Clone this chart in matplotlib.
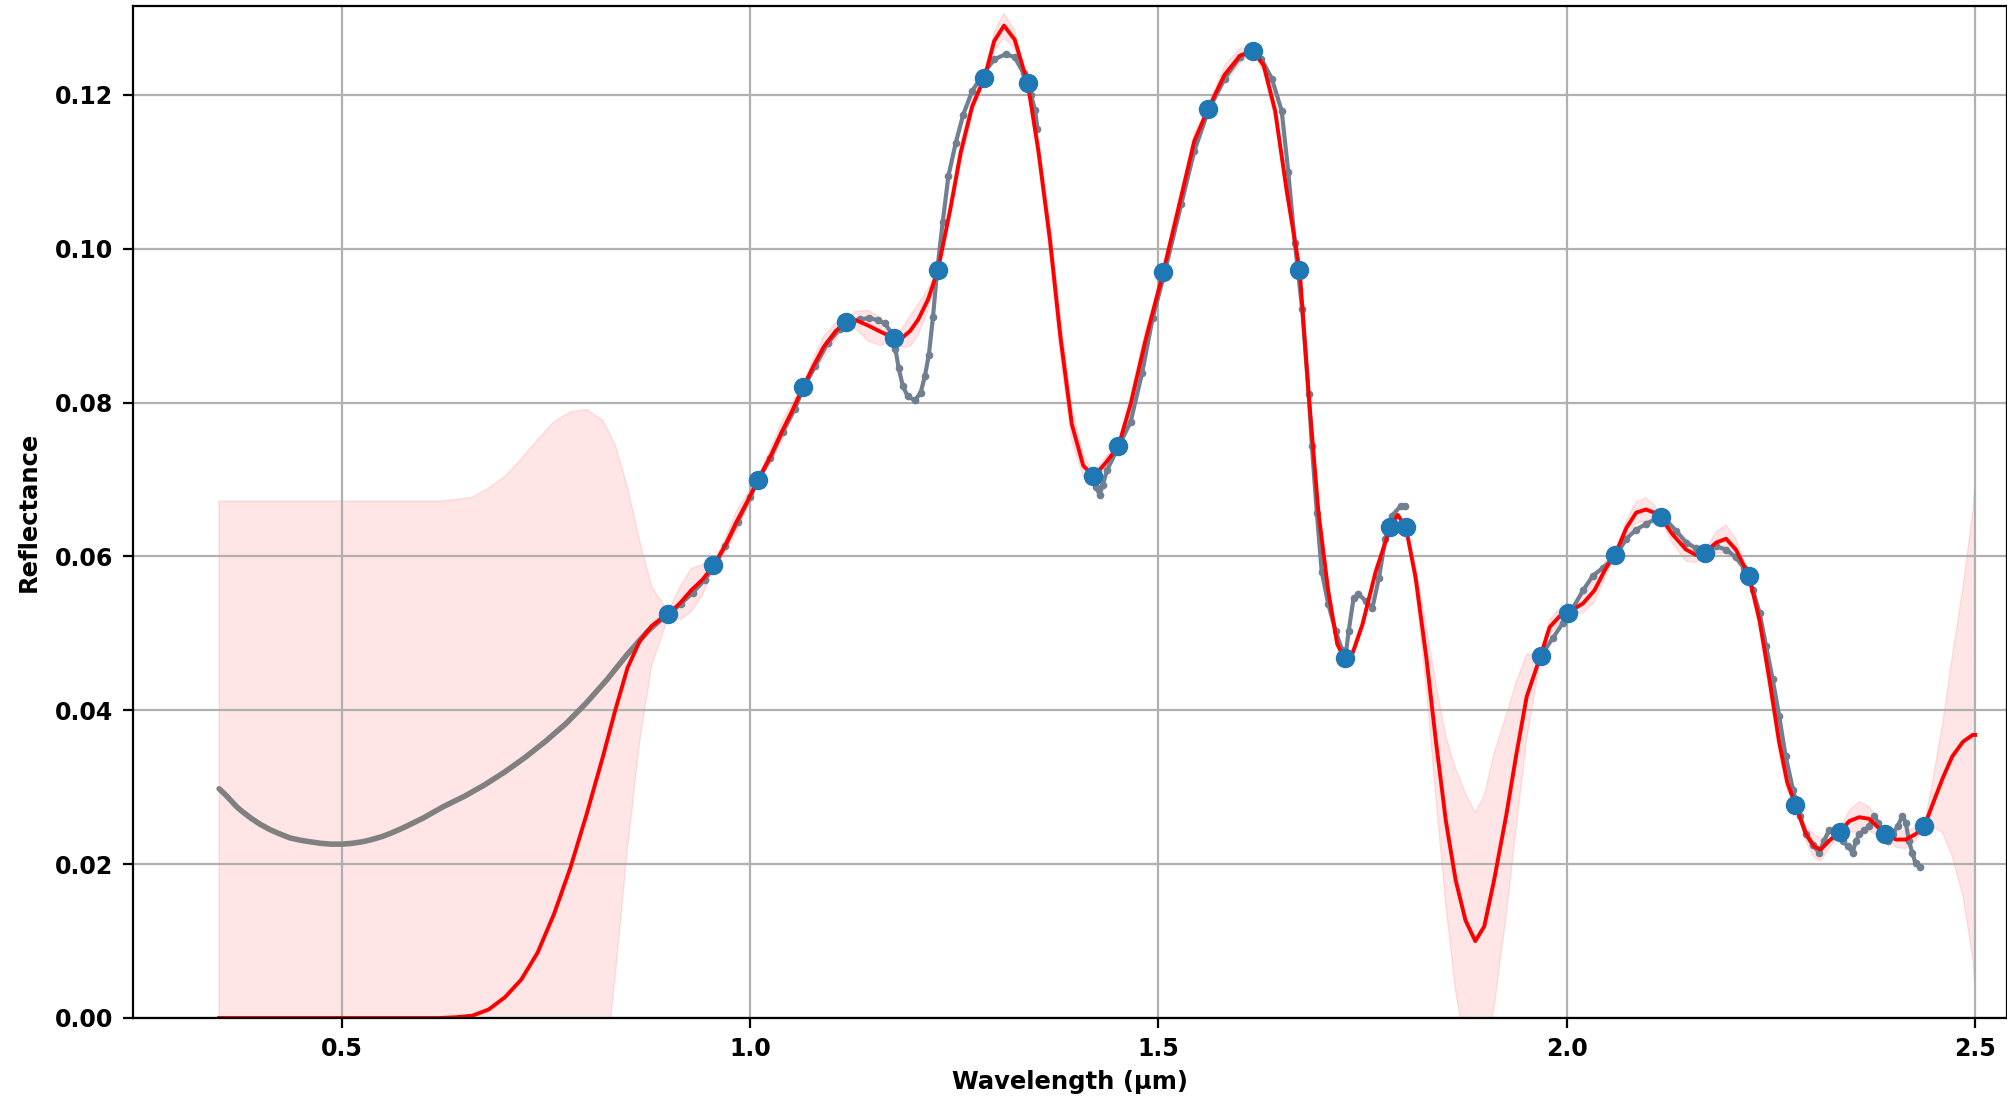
import matplotlib
matplotlib.use("Agg")
import matplotlib.pyplot as plt
import numpy as np

# GP prediction (mean and half-width of the band)
fit_x = [0.35, 0.45, 0.55, 0.62, 0.64, 0.66, 0.68, 0.70, 0.72, 0.74, 0.76, 0.78,
         0.80, 0.82, 0.835, 0.85, 0.865, 0.88, 0.90, 0.915, 0.928, 0.942, 0.956,
         0.97, 0.983, 0.997, 1.010, 1.025, 1.038, 1.052, 1.065, 1.078, 1.090,
         1.105, 1.118, 1.130, 1.145, 1.160, 1.176, 1.186, 1.196, 1.206, 1.218,
         1.230, 1.245, 1.258, 1.272, 1.287, 1.299, 1.311, 1.324, 1.340, 1.353,
         1.367, 1.380, 1.394, 1.408, 1.421, 1.435, 1.451, 1.466, 1.484, 1.506,
         1.528, 1.544, 1.561, 1.581, 1.600, 1.616, 1.629, 1.643, 1.657, 1.673,
         1.684, 1.696, 1.708, 1.719, 1.729, 1.738, 1.750, 1.766, 1.784, 1.793,
         1.803, 1.815, 1.828, 1.840, 1.852, 1.864, 1.876, 1.888, 1.899, 1.911,
         1.926, 1.938, 1.951, 1.968, 1.979, 1.991, 2.003, 2.020, 2.034, 2.048,
         2.059, 2.073, 2.085, 2.097, 2.107, 2.115, 2.130, 2.146, 2.158, 2.169,
         2.183, 2.195, 2.207, 2.223, 2.236, 2.248, 2.260, 2.270, 2.280, 2.293,
         2.303, 2.311, 2.321, 2.334, 2.346, 2.358, 2.370, 2.382, 2.391, 2.403,
         2.415, 2.427, 2.438, 2.448, 2.460, 2.472, 2.485, 2.497, 2.500]
fit_y = [0.0, 0.0, 0.0, 0.0, 0.0001, 0.0003, 0.0011, 0.0027, 0.0050, 0.0085, 0.0135, 0.0195,
         0.0265, 0.0340, 0.0400, 0.0455, 0.0490, 0.0510, 0.0525, 0.0540, 0.0556, 0.0570, 0.0589,
         0.0615, 0.0644, 0.0672, 0.0700, 0.0730, 0.0760, 0.0790, 0.0820, 0.0848, 0.0872,
         0.0893, 0.0905, 0.0907, 0.0900, 0.0892, 0.0884, 0.0884, 0.0893, 0.0908, 0.0934,
         0.0972, 0.1050, 0.1125, 0.1185, 0.1222, 0.1270, 0.1290, 0.1272, 0.1215, 0.1128,
         0.1014, 0.0886, 0.0772, 0.0718, 0.0704, 0.0721, 0.0743, 0.0798, 0.0880, 0.0970,
         0.1068, 0.1140, 0.1182, 0.1226, 0.1251, 0.1258, 0.1238, 0.1179, 0.1076, 0.0972,
         0.0811, 0.0657, 0.0555, 0.0486, 0.0466, 0.0475, 0.0512, 0.0580, 0.0638, 0.0654,
         0.0638, 0.0572, 0.0469, 0.0358, 0.0256, 0.0179, 0.0127, 0.0100, 0.0119, 0.0179,
         0.0264, 0.0341, 0.0418, 0.0471, 0.0508, 0.0522, 0.0528, 0.0539, 0.0556, 0.0585,
         0.0602, 0.0637, 0.0657, 0.0661, 0.0657, 0.0651, 0.0628, 0.0609, 0.0602, 0.0605,
         0.0618, 0.0623, 0.0609, 0.0575, 0.0517, 0.0441, 0.0359, 0.0306, 0.0277, 0.0239,
         0.0223, 0.0219, 0.0230, 0.0242, 0.0256, 0.0261, 0.0259, 0.0247, 0.0239, 0.0232,
         0.0232, 0.0239, 0.0250, 0.0278, 0.0311, 0.0340, 0.0359, 0.0368, 0.0368]
fit_err = [0.0672, 0.0672, 0.0672, 0.0672, 0.0673, 0.0674, 0.0678, 0.0677, 0.0677, 0.0667, 0.0640, 0.0593,
           0.0526, 0.0437, 0.0345, 0.0235, 0.0130, 0.0050, 0.0004, 0.0022, 0.0028, 0.0020, 0.0004,
           0.0010, 0.0014, 0.0010, 0.0003, 0.0010, 0.0013, 0.0010, 0.0003, 0.0010, 0.0014,
           0.0011, 0.0003, 0.0012, 0.0020, 0.0018, 0.0003, 0.0012, 0.0020, 0.0020, 0.0014,
           0.0003, 0.0010, 0.0013, 0.0010, 0.0003, 0.0012, 0.0016, 0.0012, 0.0003, 0.0015,
           0.0022, 0.0025, 0.0022, 0.0015, 0.0003, 0.0008, 0.0003, 0.0010, 0.0013, 0.0003,
           0.0010, 0.0010, 0.0003, 0.0012, 0.0010, 0.0003, 0.0008, 0.0012, 0.0010, 0.0003,
           0.0008, 0.0012, 0.0010, 0.0006, 0.0003, 0.0006, 0.0008, 0.0006, 0.0003, 0.0003,
           0.0003, 0.0015, 0.0040, 0.0075, 0.0110, 0.0145, 0.0165, 0.0167, 0.0170, 0.0165,
           0.0130, 0.0095, 0.0055, 0.0003, 0.0010, 0.0010, 0.0003, 0.0012, 0.0015, 0.0010,
           0.0003, 0.0010, 0.0014, 0.0015, 0.0010, 0.0003, 0.0012, 0.0015, 0.0010, 0.0003,
           0.0014, 0.0018, 0.0014, 0.0003, 0.0012, 0.0018, 0.0016, 0.0010, 0.0003, 0.0010,
           0.0015, 0.0015, 0.0010, 0.0003, 0.0014, 0.0020, 0.0016, 0.0010, 0.0003, 0.0010,
           0.0012, 0.0008, 0.0003, 0.0030, 0.0070, 0.0130, 0.0200, 0.0290, 0.0330]

# training samples
train_x = [0.900, 0.955, 1.010, 1.065, 1.118, 1.176, 1.230, 1.286, 1.340, 1.420,
           1.451, 1.506, 1.561, 1.616, 1.672, 1.729, 1.783, 1.803, 1.968, 2.002,
           2.059, 2.115, 2.169, 2.223, 2.280, 2.334, 2.390, 2.437]
train_y = [0.0525, 0.0589, 0.0700, 0.0820, 0.0905, 0.0884, 0.0972, 0.1222, 0.1215, 0.0704,
           0.0743, 0.0970, 0.1182, 0.1257, 0.0972, 0.0468, 0.0638, 0.0638, 0.0471, 0.0527,
           0.0602, 0.0651, 0.0605, 0.0575, 0.0277, 0.0242, 0.0239, 0.0250]

# measured spectrum, short-wavelength part
vis_x = [0.350, 0.358, 0.365, 0.372, 0.380, 0.390, 0.400, 0.412, 0.425, 0.437,
         0.450, 0.462, 0.475, 0.487, 0.500, 0.512, 0.525, 0.537, 0.550, 0.562,
         0.575, 0.600, 0.625, 0.650, 0.675, 0.700, 0.725, 0.750, 0.775, 0.800,
         0.825, 0.850, 0.875, 0.900]
vis_y = [0.0298, 0.0290, 0.0282, 0.0274, 0.0267, 0.0259, 0.0252, 0.0245, 0.0239, 0.0234,
         0.0231, 0.0229, 0.0227, 0.0226, 0.0226, 0.0227, 0.0229, 0.0232, 0.0236, 0.0241,
         0.0247, 0.0260, 0.0275, 0.0288, 0.0303, 0.0320, 0.0339, 0.0360, 0.0383, 0.0410,
         0.0440, 0.0473, 0.0503, 0.0527]

# measured spectrum, infrared segments
ir1_x = [0.900, 0.915, 0.930, 0.945, 0.956, 0.970, 0.985, 1.000, 1.010, 1.025,
         1.040, 1.055, 1.065, 1.080, 1.095, 1.110, 1.120, 1.135, 1.146, 1.157,
         1.165, 1.173, 1.178, 1.182, 1.187, 1.193, 1.202, 1.209, 1.214, 1.219,
         1.224, 1.229, 1.236, 1.243, 1.252, 1.261, 1.272, 1.286, 1.299, 1.313,
         1.324, 1.335, 1.344, 1.349, 1.352]
ir1_y = [0.0524, 0.0538, 0.0553, 0.0570, 0.0588, 0.0614, 0.0645, 0.0677, 0.0699, 0.0728,
         0.0762, 0.0792, 0.0818, 0.0848, 0.0877, 0.0896, 0.0905, 0.0908, 0.0910, 0.0907,
         0.0903, 0.0891, 0.0870, 0.0845, 0.0822, 0.0808, 0.0803, 0.0813, 0.0834, 0.0862,
         0.0911, 0.0970, 0.1035, 0.1095, 0.1138, 0.1174, 0.1205, 0.1228, 0.1246, 0.1253,
         0.1249, 0.1228, 0.1200, 0.1180, 0.1156]

ir2_x = [1.419, 1.424, 1.428, 1.432, 1.437, 1.451, 1.466, 1.480, 1.493, 1.506,
         1.528, 1.544, 1.561, 1.581, 1.600, 1.615, 1.626, 1.639, 1.651, 1.659,
         1.667, 1.676, 1.684, 1.688, 1.694, 1.700, 1.708, 1.717, 1.725, 1.729,
         1.733, 1.739, 1.745, 1.754, 1.762, 1.770, 1.778, 1.786, 1.797, 1.802]
ir2_y = [0.0705, 0.0690, 0.0680, 0.0693, 0.0712, 0.0742, 0.0775, 0.0838, 0.0910, 0.0962,
         0.1058, 0.1127, 0.1179, 0.1221, 0.1249, 0.1259, 0.1247, 0.1221, 0.1179, 0.1100,
         0.1008, 0.0922, 0.0811, 0.0743, 0.0657, 0.0580, 0.0538, 0.0503, 0.0478, 0.0469,
         0.0503, 0.0546, 0.0551, 0.0542, 0.0533, 0.0572, 0.0623, 0.0653, 0.0666, 0.0666]

ir3_x = [1.968, 1.983, 1.995, 2.007, 2.020, 2.032, 2.044, 2.059, 2.073, 2.085,
         2.097, 2.109, 2.122, 2.134, 2.146, 2.158, 2.171, 2.183, 2.195, 2.207,
         2.217, 2.228, 2.236, 2.244, 2.252, 2.260, 2.268, 2.277, 2.285, 2.293,
         2.301, 2.309, 2.315, 2.321, 2.330, 2.338, 2.344, 2.350, 2.354, 2.358,
         2.364, 2.370, 2.376, 2.381, 2.387, 2.393, 2.399, 2.405, 2.411, 2.415,
         2.419, 2.423, 2.427, 2.432]
ir3_y = [0.0470, 0.0494, 0.0513, 0.0532, 0.0556, 0.0575, 0.0585, 0.0599, 0.0623, 0.0635,
         0.0642, 0.0649, 0.0647, 0.0633, 0.0618, 0.0611, 0.0611, 0.0613, 0.0609, 0.0599,
         0.0585, 0.0556, 0.0527, 0.0484, 0.0441, 0.0393, 0.0340, 0.0297, 0.0263, 0.0239,
         0.0225, 0.0215, 0.0230, 0.0244, 0.0244, 0.0230, 0.0223, 0.0215, 0.0230, 0.0239,
         0.0244, 0.0249, 0.0263, 0.0254, 0.0244, 0.0230, 0.0239, 0.0249, 0.0263, 0.0254,
         0.0230, 0.0215, 0.0201, 0.0196]

fx = np.array(fit_x)
fy = np.array(fit_y)
fe = np.array(fit_err)

fig = plt.figure(figsize=(20.08, 11.04), dpi=100)
ax = fig.add_axes([0.0662, 0.0779, 0.9333, 0.9163])

ax.fill_between(fx, fy - fe, fy + fe, color="red", alpha=0.1)
ax.plot(vis_x, vis_y, color="gray", lw=4, solid_capstyle="round")
for sx, sy in [(ir1_x, ir1_y), (ir2_x, ir2_y), (ir3_x, ir3_y)]:
    ax.plot(sx, sy, color="slategray", lw=3, marker="o", ms=4.5,
            solid_capstyle="round")
ax.plot(fx, fy, color="red", lw=2.8)
ax.plot(train_x, train_y, "o", color="tab:blue", ms=13, zorder=5)

ax.set_xlim(0.2445, 2.539)
ax.set_ylim(0, 0.1315)
ax.set_xticks([0.5, 1.0, 1.5, 2.0, 2.5])
ax.set_yticks([0.0, 0.02, 0.04, 0.06, 0.08, 0.10, 0.12])
ax.grid(True, color="#b0b0b0", lw=1.6)
ax.tick_params(labelsize=17, length=7, width=1.6, pad=7)
for lab in ax.get_xticklabels() + ax.get_yticklabels():
    lab.set_fontweight("bold")
for s in ax.spines.values():
    s.set_linewidth(1.6)

ax.set_xlabel("Wavelength (µm)", fontsize=17.5, fontweight="bold", labelpad=6)
ax.set_ylabel("Reflectance", fontsize=17.5, fontweight="bold", labelpad=10)

fig.savefig("out.png", dpi=100)
